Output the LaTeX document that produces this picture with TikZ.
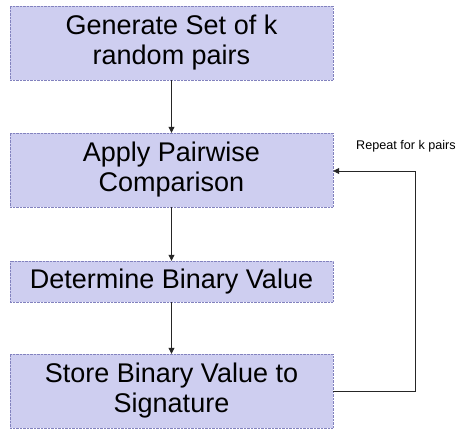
\documentclass[tikz,border=0pt]{standalone}
\usepackage{fontspec}
\setmainfont{Liberation Sans}
\usetikzlibrary{arrows.meta}
\definecolor{boxfill}{RGB}{206,206,240}
\definecolor{boxline}{RGB}{130,130,190}
\tikzset{
  stepbox/.style={draw=boxline, densely dotted, fill=boxfill, minimum width=323pt,
    align=center, inner sep=0pt, font=\fontsize{27}{30}\selectfont},
  flow/.style={draw=black!85, line width=0.8pt, -{Triangle[length=6pt,width=6pt]}},
}
\begin{document}
\begin{tikzpicture}[x=1pt,y=-1pt]
  \useasboundingbox (0,0) rectangle (459,429);
  \node[stepbox, minimum height=74pt] (gen) at (171.5,43) {Generate Set of k\\random pairs};
  \node[stepbox, minimum height=74pt] (apply) at (171.5,170) {Apply Pairwise\\Comparison};
  \node[stepbox, minimum height=41pt] (det) at (171.5,281.5) {Determine Binary Value};
  \node[stepbox, minimum height=74pt] (store) at (171.5,391) {Store Binary Value to\\Signature};
  \draw[flow] (gen) -- (apply);
  \draw[flow] (apply) -- (det);
  \draw[flow] (det) -- (store);
  \coordinate (turnlow) at (415,391);
  \coordinate (turnhigh) at (415,171);
  \draw[flow] (store.east |- turnlow) -- (turnlow) -- (turnhigh) -- (apply.east |- turnhigh);
  \node[anchor=west, inner sep=0pt, font=\fontsize{12.6}{15}\selectfont] (rep) at (356,146) {Repeat for k pairs};
\end{tikzpicture}
\end{document}
